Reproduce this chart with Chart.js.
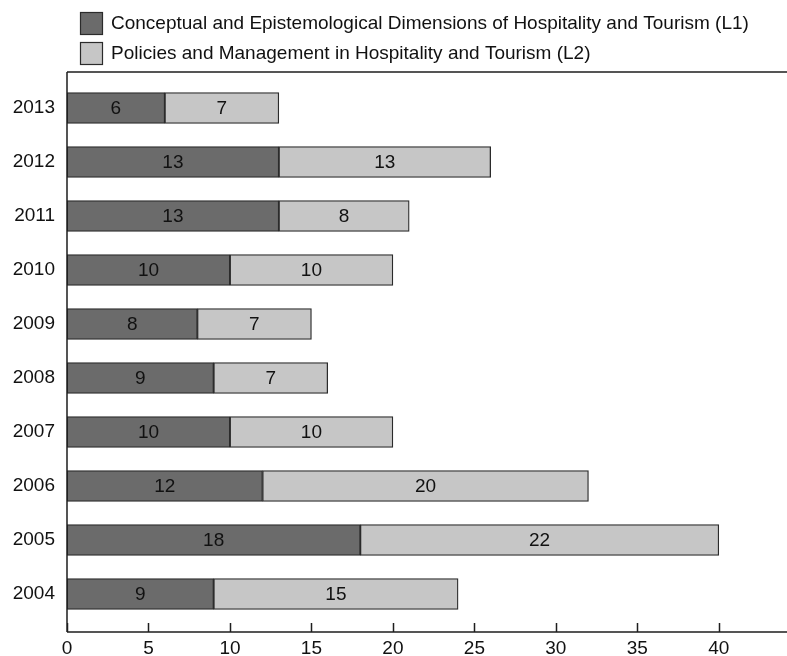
<!DOCTYPE html>
<html>
<head>
<meta charset="utf-8">
<script src="https://cdn.jsdelivr.net/npm/chart.js@4"></script>
<style>
html,body{margin:0;padding:0;background:#fff;}
#wrap{width:787px;height:656px;position:relative;}
</style>
</head>
<body>
<div id="wrap"><canvas id="c" width="787" height="656"></canvas></div>
<script>
const years = ['2013','2012','2011','2010','2009','2008','2007','2006','2005','2004'];
const l1Values = [6, 13, 13, 10, 8, 9, 10, 12, 18, 9];
const l2Values = [7, 13, 8, 10, 7, 7, 10, 20, 22, 15];
const seriesNames = [
  'Conceptual and Epistemological Dimensions of Hospitality and Tourism (L1)',
  'Policies and Management in Hospitality and Tourism (L2)'
];
const xTicks = [0, 5, 10, 15, 20, 25, 30, 35, 40];

const FONT = '"Liberation Sans", Arial, sans-serif';
const FS = 19;
const DARK = '#6b6b6b';
const LIGHT = '#c6c6c6';
const EDGE = '#2b2b2b';

const framePlugin = {
  id: 'frame',
  afterDraw(chart) {
    const ctx = chart.ctx;
    const a = chart.chartArea;
    const xs = chart.scales.x;
    const top = a.top - 9, bottom = a.bottom + 11;
    ctx.save();
    ctx.strokeStyle = '#1e1e1e';
    ctx.lineWidth = 1.5;
    ctx.beginPath();
    ctx.moveTo(a.left, top); ctx.lineTo(chart.width, top);
    ctx.moveTo(a.left, top); ctx.lineTo(a.left, bottom);
    ctx.moveTo(a.left, bottom); ctx.lineTo(chart.width, bottom);
    xTicks.forEach(v => {
      const px = Math.round(xs.getPixelForValue(v)) + 0.5;
      ctx.moveTo(px, bottom); ctx.lineTo(px, bottom - 9);
    });
    ctx.stroke();
    // legend
    ctx.font = FS + 'px ' + FONT;
    ctx.textBaseline = 'middle';
    ctx.textAlign = 'left';
    chart.data.datasets.forEach((ds, i) => {
      const y = 12 + i * 30;
      ctx.fillStyle = ds.backgroundColor;
      ctx.fillRect(80.5, y + 0.5, 22, 22);
      ctx.lineWidth = 1.2;
      ctx.strokeStyle = EDGE;
      ctx.strokeRect(80.5, y + 0.5, 22, 22);
      ctx.fillStyle = '#111';
      ctx.fillText(ds.label, 111, y + 12);
    });
    ctx.restore();
  },
  afterDatasetsDraw(chart) {
    const ctx = chart.ctx;
    ctx.save();
    ctx.font = FS + 'px ' + FONT;
    ctx.fillStyle = '#111';
    ctx.textAlign = 'center';
    ctx.textBaseline = 'middle';
    chart.data.datasets.forEach((ds, di) => {
      const meta = chart.getDatasetMeta(di);
      meta.data.forEach((el, i) => {
        const p = el.getProps(['x', 'y', 'base'], true);
        ctx.fillText(String(ds.data[i]), (p.x + p.base) / 2, p.y + 1);
      });
    });
    ctx.restore();
  }
};

new Chart(document.getElementById('c'), {
  type: 'bar',
  data: {
    labels: years,
    datasets: [
      { label: seriesNames[0], data: l1Values, backgroundColor: DARK, borderColor: EDGE, borderWidth: 1.3, borderSkipped: false, barThickness: 31 },
      { label: seriesNames[1], data: l2Values, backgroundColor: LIGHT, borderColor: EDGE, borderWidth: 1.3, borderSkipped: false, barThickness: 31 }
    ]
  },
  options: {
    indexAxis: 'y',
    responsive: false,
    animation: false,
    layout: { padding: { top: 81, right: 3, left: 0, bottom: 0 } },
    plugins: { legend: { display: false }, tooltip: { enabled: false } },
    scales: {
      x: {
        stacked: true,
        min: 0, max: 44,
        afterBuildTicks(s) { s.ticks = xTicks.map(v => ({ value: v })); },
        afterFit(s) { s.height = 35; },
        grid: { display: false, drawTicks: false },
        border: { display: false },
        ticks: { color: '#111', font: { family: FONT, size: FS }, padding: 16, maxRotation: 0, autoSkip: false }
      },
      y: {
        stacked: true,
        afterFit(s) { s.width = 67; },
        grid: { display: false, drawTicks: false },
        border: { display: false },
        ticks: { color: '#111', font: { family: FONT, size: FS }, padding: 12 }
      }
    }
  },
  plugins: [framePlugin]
});
</script>
</body>
</html>
